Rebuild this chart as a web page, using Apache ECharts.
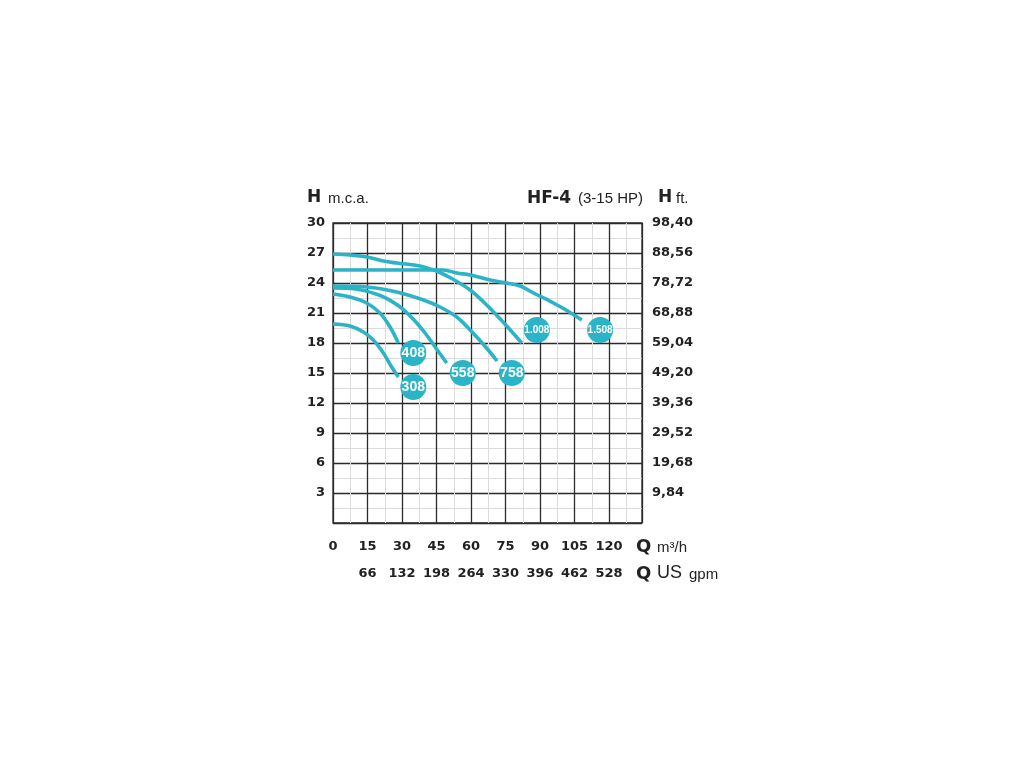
<!DOCTYPE html>
<html>
<head>
<meta charset="utf-8">
<script src="https://cdn.jsdelivr.net/npm/echarts@6/dist/echarts.min.js"></script>
<style>
html,body{margin:0;padding:0;background:#fff;}
#c{width:1024px;height:768px;}
</style>
</head>
<body>
<div id="c"></div>
<script>
// ---- data ----
const qLabels = ['0','15','30','45','60','75','90','105','120'];
const gpmLabels = ['','66','132','198','264','330','396','462','528'];
const hLabels = ['','3','6','9','12','15','18','21','24','27','30'];
const ftLabels = ['','9,84','19,68','29,52','39,36','49,20','59,04','68,88','78,72','88,56','98,40'];

const curve308 = [[0,19.9],[7.4,19.7],[13.2,19.1],[17.5,18.3],[21.9,17.0],[25.5,15.6],[28.4,14.6]];
const curve408 = [[0,22.9],[7.4,22.6],[14.6,22.0],[20.4,21.0],[24.8,19.6],[28.4,18.0]];
const curve558 = [[0,23.5],[10,23.4],[20,22.8],[28,21.8],[34,20.6],[40,19.0],[45,17.4],[49.4,16.0]];
const curve758 = [[0,23.7],[14.6,23.6],[27.7,23.1],[39.3,22.3],[46.5,21.6],[53.8,20.6],[60,19.2],[66,17.7],[71.3,16.2]];
const curve1008 = [[0,26.9],[7.4,26.8],[14.6,26.6],[21.9,26.2],[27.7,26.0],[37.8,25.7],[42.2,25.4],[45,25.2],[52,24.4],[59.6,23.3],[66.8,21.8],[75.5,19.7],[82,18.0]];
const curve1508 = [[0,25.3],[15,25.3],[30,25.3],[45,25.3],[48,25.3],[53.8,25.0],[59.6,24.8],[68.3,24.3],[75.5,24.0],[81.3,23.7],[88,22.9],[95.8,22.0],[102,21.2],[108.1,20.3]];

const badgeNames = ['308','408','558','758','1.008','1.508'];
const badgeQ = [34.9,34.9,56.4,77.7,88.6,116.1];
const badgeH = [13.6,17.0,15.0,15.0,19.3,19.3];

// ---- chart ----
const TEAL = '#2bb4c7';
const QMAX = 134.3;
function pick(arr, v, step){
  const i = Math.round(v/step);
  return (Math.abs(v - i*step) < 1e-6 && i >= 0 && i < arr.length) ? arr[i] : '';
}
const numFont = {fontFamily:'DejaVu Sans', fontWeight:'bold', fontSize:13, color:'#222'};

function curveSeries(data){
  return {type:'line', data:data, smooth:0.35, showSymbol:false, symbol:'none',
    lineStyle:{color:TEAL, width:3.6}, z:3, silent:true, animation:false};
}

const chart = echarts.init(document.getElementById('c'), null, {renderer:'canvas'});
chart.setOption({
  animation:false,
  backgroundColor:'#fff',
  grid:{left:333, top:223, width:309, height:300, show:true, borderColor:'#2b2b2b', borderWidth:1.3, backgroundColor:'transparent', containLabel:false},
  xAxis:[
    {type:'value', min:0, max:QMAX, interval:15, position:'bottom',
     axisLine:{show:false}, axisTick:{show:false},
     axisLabel:Object.assign({margin:17, formatter:v=>pick(qLabels,v,15), showMaxLabel:false}, numFont),
     splitLine:{show:true, lineStyle:{color:'#2b2b2b', width:1.3}},
     minorTick:{show:false, splitNumber:2},
     minorSplitLine:{show:true, lineStyle:{color:'#dcdcdc', width:1}}},
    {type:'value', min:0, max:QMAX, interval:15, position:'bottom', offset:27,
     axisLine:{show:false}, axisTick:{show:false}, splitLine:{show:false},
     axisLabel:Object.assign({margin:17, formatter:v=>pick(gpmLabels,v,15), showMaxLabel:false}, numFont)}
  ],
  yAxis:[
    {type:'value', min:0, max:30, interval:3, position:'left',
     axisLine:{show:false}, axisTick:{show:false},
     axisLabel:Object.assign({margin:8, padding:[9,0,0,0], formatter:v=>pick(hLabels,v,3)}, numFont),
     splitLine:{show:true, lineStyle:{color:'#2b2b2b', width:1.3}},
     minorTick:{show:false, splitNumber:2},
     minorSplitLine:{show:true, lineStyle:{color:'#dcdcdc', width:1}}},
    {type:'value', min:0, max:30, interval:3, position:'right',
     axisLine:{show:false}, axisTick:{show:false}, splitLine:{show:false},
     axisLabel:Object.assign({margin:10, padding:[6,0,0,0], formatter:v=>pick(ftLabels,v,3)}, numFont)}
  ],
  series:[
    curveSeries(curve308), curveSeries(curve408), curveSeries(curve558),
    curveSeries(curve758), curveSeries(curve1008), curveSeries(curve1508),
    {type:'scatter', z:5, silent:true, symbol:'circle', symbolSize:26,
     itemStyle:{color:TEAL, opacity:1},
     data: badgeNames.map((n,i)=>({value:[badgeQ[i], badgeH[i]], name:n,
       label:{fontSize: n.length>3 ? 10 : 14}})),
     label:{show:true, position:'inside', color:'#fff', fontFamily:'Liberation Sans', fontWeight:'bold',
       formatter:p=>p.name},
     labelLayout:{hideOverlap:false}}
  ],
  graphic:[
    {type:'text', x:307, y:198, style:{text:'H', font:'bold 17px "DejaVu Sans"', fill:'#222', textVerticalAlign:'middle'}},
    {type:'text', x:328, y:198.5, style:{text:'m.c.a.', font:'15px "Liberation Sans"', fill:'#222', textVerticalAlign:'middle'}},
    {type:'text', x:527, y:199, style:{text:'HF-4', font:'bold 17px "DejaVu Sans"', fill:'#222', textVerticalAlign:'middle'}},
    {type:'text', x:578, y:198.5, style:{text:'(3-15 HP)', font:'15px "Liberation Sans"', fill:'#222', textVerticalAlign:'middle'}},
    {type:'text', x:658, y:198, style:{text:'H', font:'bold 17px "DejaVu Sans"', fill:'#222', textVerticalAlign:'middle'}},
    {type:'text', x:676, y:198.5, style:{text:'ft.', font:'15px "Liberation Sans"', fill:'#222', textVerticalAlign:'middle'}},
    {type:'text', x:636, y:547, style:{text:'Q', font:'bold 18px "DejaVu Sans"', fill:'#222', textVerticalAlign:'middle'}},
    {type:'text', x:657, y:548, style:{text:'m³/h', font:'15px "Liberation Sans"', fill:'#222', textVerticalAlign:'middle'}},
    {type:'text', x:636, y:574, style:{text:'Q', font:'bold 18px "DejaVu Sans"', fill:'#222', textVerticalAlign:'middle'}},
    {type:'text', x:657, y:573, style:{text:'US', font:'18px "Liberation Sans"', fill:'#222', textVerticalAlign:'middle'}},
    {type:'text', x:689, y:575, style:{text:'gpm', font:'15px "Liberation Sans"', fill:'#222', textVerticalAlign:'middle'}}
  ]
});
</script>
</body>
</html>
